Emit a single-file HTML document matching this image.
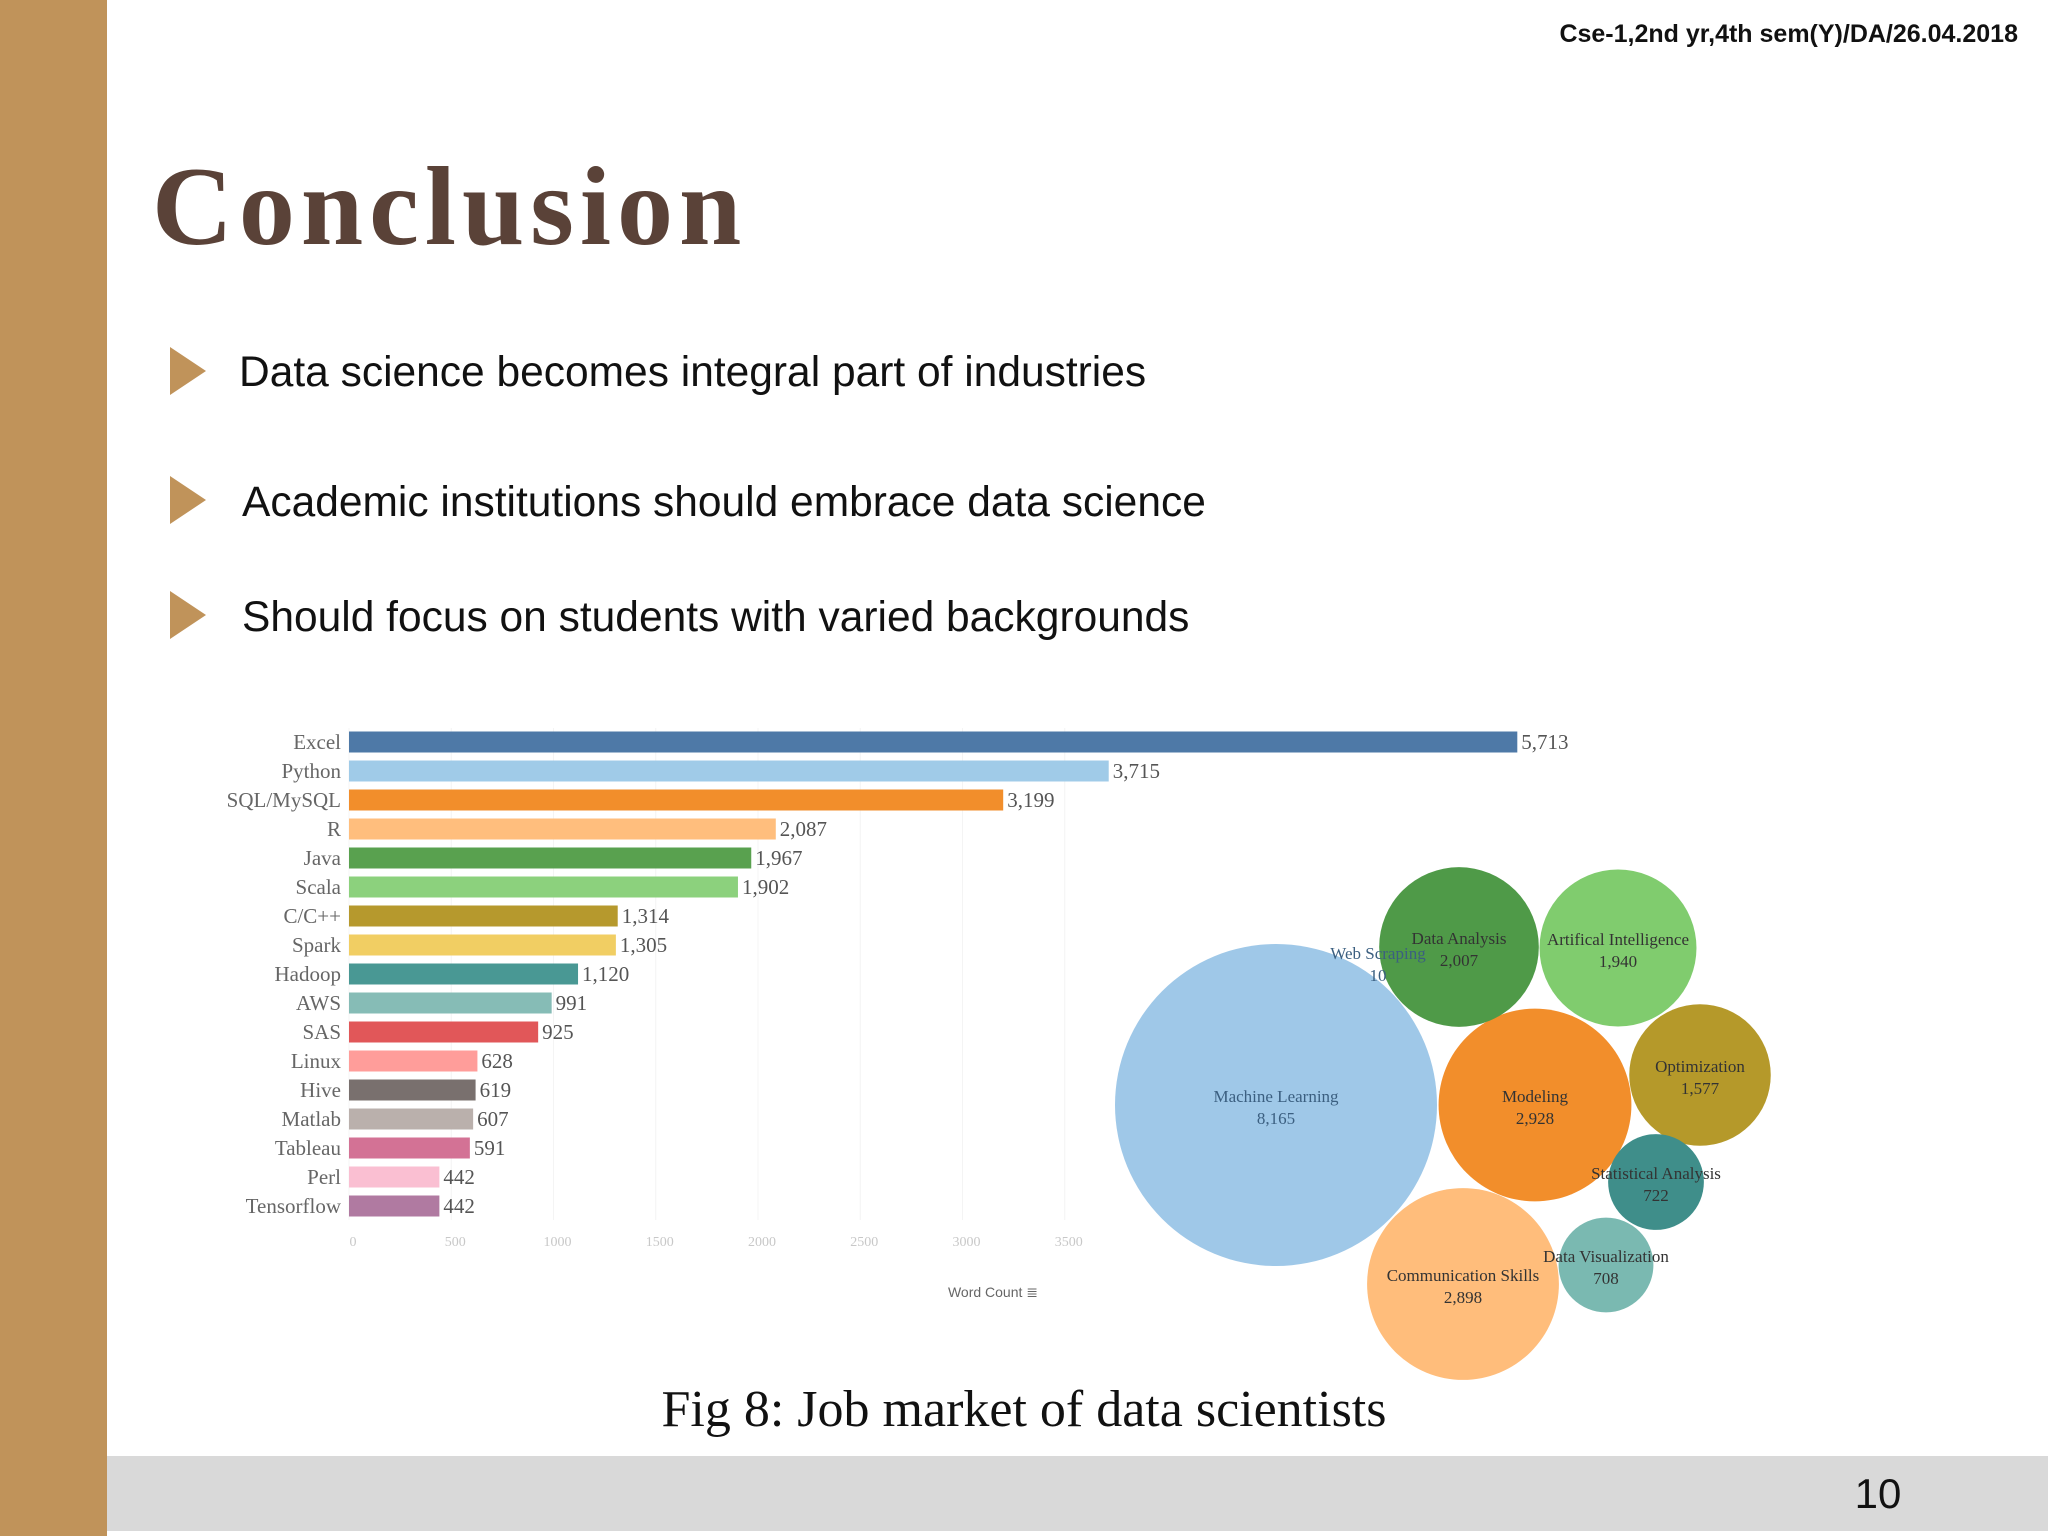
<!DOCTYPE html>
<html><head><meta charset="utf-8"><style>
html,body{margin:0;padding:0;background:#fff;}
svg{display:block;}
</style></head><body>
<svg id="slide" width="2048" height="1536" viewBox="0 0 2048 1536" xmlns="http://www.w3.org/2000/svg">
<rect x="0" y="0" width="2048" height="1536" fill="#fff"/>
<rect x="0" y="0" width="107" height="1536" fill="#c0935a"/>
<text x="2018" y="42" text-anchor="end" font-family="Liberation Sans, sans-serif" font-weight="bold" font-size="25" fill="#111">Cse-1,2nd yr,4th sem(Y)/DA/26.04.2018</text>
<text x="152" y="244" font-family="Liberation Serif, serif" font-weight="bold" font-size="112" letter-spacing="6" fill="#5a4238">Conclusion</text>
<g>
<polygon points="170,347 206,371 170,395" fill="#c0935a"/>
<text x="239" y="386" font-family="Liberation Sans, sans-serif" font-size="42.5" fill="#111">Data science becomes integral part of industries</text>
<polygon points="170,476 206,500 170,524" fill="#c0935a"/>
<text x="242" y="516" font-family="Liberation Sans, sans-serif" font-size="42.5" fill="#111">Academic institutions should embrace data science</text>
<polygon points="170,591 206,615 170,639" fill="#c0935a"/>
<text x="242" y="631" font-family="Liberation Sans, sans-serif" font-size="42.5" fill="#111">Should focus on students with varied backgrounds</text>
</g>
<g id="barchart"></g>
<g id="bubbles"></g>
<text x="1024" y="1426" text-anchor="middle" font-family="Liberation Serif, serif" font-size="52" fill="#111">Fig 8: Job market of data scientists</text>
<rect x="107" y="1456" width="1941" height="75" fill="#d9d9d9"/>
<text x="1878" y="1508" text-anchor="middle" font-family="Liberation Sans, sans-serif" font-size="42" fill="#111">10</text>
</svg>
<script>
const categories = ["Excel","Python","SQL/MySQL","R","Java","Scala","C/C++","Spark","Hadoop","AWS","SAS","Linux","Hive","Matlab","Tableau","Perl","Tensorflow"];
const counts = [5713,3715,3199,2087,1967,1902,1314,1305,1120,991,925,628,619,607,591,442,442];
const valueLabels = ["5,713","3,715","3,199","2,087","1,967","1,902","1,314","1,305","1,120","991","925","628","619","607","591","442","442"];
const barColors = ["#4e79a7","#a0cbe8","#f28e2b","#ffbe7d","#59a14f","#8cd17d","#b6992d","#f1ce63","#499894","#86bcb6","#e15759","#ff9d9a","#79706e","#bab0ac","#d37295","#fabfd2","#b07aa1"];
const xTicks = [0,500,1000,1500,2000,2500,3000,3500];
const skills = ["Machine Learning","Modeling","Communication Skills","Data Analysis","Artifical Intelligence","Optimization","Statistical Analysis","Data Visualization","Web Scraping"];
const skillCounts = [8165,2928,2898,2007,1940,1577,722,708,10];
const skillLabels = ["8,165","2,928","2,898","2,007","1,940","1,577","722","708","10"];
const skillColors = ["#9fc8e8","#f28e2b","#ffbd7b","#4f9a48","#80cc6e","#b5992a","#3f8e8a","#7ab9b1","#4e79a7"];
const NS="http://www.w3.org/2000/svg";
function mk(tag, attrs, parent){const e=document.createElementNS(NS,tag);for(const k in attrs)e.setAttribute(k,attrs[k]);parent.appendChild(e);return e;}
const bc=document.getElementById('barchart');
const x0=349, kx=0.2045;
const xs=v=>x0+v*kx;
const ys=i=>742+i*29;
xTicks.forEach((t)=>{
  const gl=mk('line',{x1:xs(t),x2:xs(t),y1:728,y2:1220,stroke:'#f4f4f4','stroke-width':1},bc);
  
  
  const tl=mk('text',{x:xs(t)+4,y:1246,'text-anchor':'middle','font-family':'Liberation Serif, serif','font-size':14,fill:'#c8c8c8'},bc);
  tl.textContent=t;
  
  
});
categories.forEach((c,i)=>{
  const y=ys(i);
  const r=mk('rect',{x:x0,y:y-10.5,width:counts[i]*kx,height:21,fill:barColors[i]},bc);
  
  
  const l=mk('text',{x:341,y:y+7,'text-anchor':'end','font-family':'Liberation Serif, serif','font-size':21,fill:'#666'},bc);
  l.textContent=c;
  
  
  const v=mk('text',{x:xs(counts[i])+4,y:y+7,'font-family':'Liberation Serif, serif','font-size':21,fill:'#555'},bc);
  v.textContent=valueLabels[i];
  
  
});
const at=mk('text',{x:993,y:1297,'text-anchor':'middle','font-family':'Liberation Sans, sans-serif','font-size':14,fill:'#666'},bc);
at.textContent='Word Count \u2263';


// bubble layout centres (packing positions)
const centres=[[1276,1105],[1535,1105],[1463,1284],[1459,947],[1618,948],[1700,1075],[1656,1182],[1606,1265],[1378,962]];
const bg=document.getElementById('bubbles');
const rScale=v=>161*Math.sqrt(v/8165);
skills.forEach((s,i)=>{
  const [cx,cy]=centres[i];
  const r=rScale(skillCounts[i]);
  const c=mk('circle',{cx:cx,cy:cy,r:r,fill:skillColors[i],'fill-opacity':r<10?0:1},bg);
  
  
});
skills.forEach((s,i)=>{
  const [cx,cy]=centres[i];
  const fill = i===0||i===8 ? '#3b5f80' : '#333';
  const t=mk('text',{x:cx,y:cy-3,'text-anchor':'middle','font-family':'Liberation Serif, serif','font-size':17,fill:fill},bg);
  t.textContent=s;
  
  
  const v=mk('text',{x:cx,y:cy+19,'text-anchor':'middle','font-family':'Liberation Serif, serif','font-size':17,fill:fill},bg);
  v.textContent=skillLabels[i];
  
  
});
</script>
</body></html>
